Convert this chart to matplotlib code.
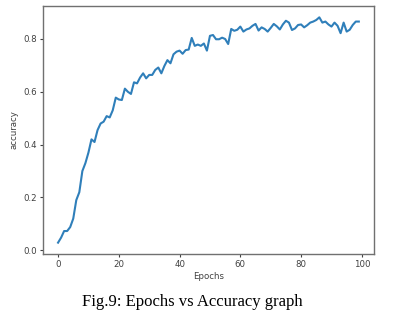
import matplotlib
matplotlib.use("Agg")
import matplotlib.pyplot as plt

epochs = list(range(100))
accuracy = [
    0.029, 0.048, 0.073, 0.073, 0.088, 0.120, 0.190, 0.220, 0.300, 0.330,
    0.370, 0.420, 0.410, 0.455, 0.480, 0.487, 0.508, 0.503, 0.530, 0.578,
    0.571, 0.569, 0.612, 0.600, 0.592, 0.636, 0.632, 0.654, 0.670, 0.651,
    0.664, 0.664, 0.683, 0.692, 0.670, 0.698, 0.720, 0.708, 0.742, 0.752,
    0.756, 0.744, 0.758, 0.760, 0.804, 0.774, 0.779, 0.774, 0.783, 0.756,
    0.812, 0.815, 0.799, 0.799, 0.805, 0.800, 0.781, 0.838, 0.831, 0.835,
    0.847, 0.828, 0.836, 0.840, 0.850, 0.857, 0.832, 0.844, 0.838, 0.828,
    0.842, 0.857, 0.848, 0.836, 0.855, 0.869, 0.862, 0.834, 0.840, 0.853,
    0.855, 0.844, 0.852, 0.862, 0.866, 0.872, 0.882, 0.862, 0.866, 0.855,
    0.847, 0.862, 0.850, 0.822, 0.862, 0.828, 0.835, 0.853, 0.866, 0.866,
]
x_label = "Epochs"
y_label = "accuracy"
caption = "Fig.9: Epochs vs Accuracy graph"

fig = plt.figure(figsize=(4.02, 3.19), dpi=100)
ax = fig.add_axes([0.107, 0.204, 0.823, 0.777])
ax.plot(epochs, accuracy, color="#2f7fba", linewidth=1.5)

tc = "#404040"
ax.set_xlabel(x_label, fontsize=6.2, color=tc, labelpad=2)
ax.set_ylabel(y_label, fontsize=6.2, color=tc, labelpad=3)
ax.tick_params(labelsize=6.2, colors=tc, length=2.5, width=0.8, pad=2)
ax.set_xticks([0, 20, 40, 60, 80, 100])
ax.set_yticks([0.0, 0.2, 0.4, 0.6, 0.8])
for s in ax.spines.values():
    s.set_color("#707070")
    s.set_linewidth(1.0)

fig.text(0.478, 0.053, caption, ha="center", va="center",
         fontsize=12, family="Liberation Serif", color="black")

fig.savefig("out.png", dpi=100)
